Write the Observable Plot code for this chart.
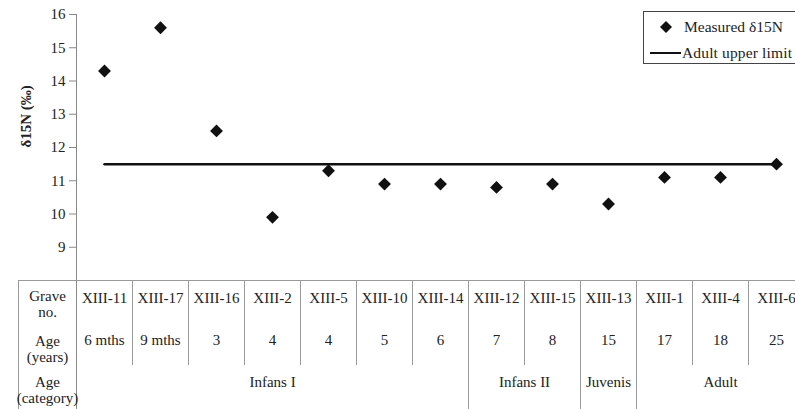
<!DOCTYPE html>
<html>
<head>
<meta charset="utf-8">
<script src="https://cdn.jsdelivr.net/npm/d3@7"></script>
<script src="https://cdn.jsdelivr.net/npm/@observablehq/plot@0.6"></script>
<style>
  html, body { margin: 0; padding: 0; background: #fff; overflow: hidden; }
  #wrap { position: relative; width: 795px; height: 409px; }
  #chart svg, #chart svg text { font-family: "Liberation Serif", "Times New Roman", "DejaVu Serif", serif !important; }
  #legend { position: absolute; left: 643px; top: 11px; width: 170px; height: 53px;
    border: 1px solid #444; background: #fff; box-sizing: border-box; }
  #legend svg { position: absolute; left: 0; top: 0; overflow: visible; }
  #legend text { font-family: "Liberation Serif", "Times New Roman", "DejaVu Serif", serif; font-size: 15.5px; fill: #222; }
</style>
</head>
<body>
<div id="wrap">
  <div id="chart"></div>
  <div id="legend">
    <svg width="170" height="53">
      <path d="M22,9 L28,15 L22,21 L16,15 Z" fill="#111"></path>
      <text x="40" y="20">Measured δ15N</text>
      <line x1="6" x2="37" y1="41" y2="41" stroke="#111" stroke-width="2"></line>
      <text x="38" y="46" textLength="110">Adult upper limit</text>
    </svg>
  </div>
</div>
<script>
const graves = ["XIII-11","XIII-17","XIII-16","XIII-2","XIII-5","XIII-10","XIII-14","XIII-12","XIII-15","XIII-13","XIII-1","XIII-4","XIII-6"];
const ages = ["6 mths","9 mths","3","4","4","5","6","7","8","15","17","18","25"];
const categories = ["Infans I","Infans I","Infans I","Infans I","Infans I","Infans I","Infans I","Infans II","Infans II","Juvenis","Adult","Adult","Adult"];
const d15N = [14.3, 15.6, 12.5, 9.9, 11.3, 10.9, 10.9, 10.8, 10.9, 10.3, 11.1, 11.1, 11.5];
const adultUpperLimit = 11.5;
const yTicks = [8, 9, 10, 11, 12, 13, 14, 15, 16];
const rowLabels = ["Grave\nno.", "Age\n(years)", "Age\n(category)"];

const rows = graves.map((g, i) => ({i, xc: i + 0.5, grave: g, age: ages[i], cat: categories[i], v: d15N[i]}));
const colBounds = graves.map((g, i) => i).filter(i => i > 0);
const groups = [];
categories.forEach((c, i) => {
  if (!groups.length || groups[groups.length - 1].name !== c) groups.push({name: c, start: i, end: i + 1});
  else groups[groups.length - 1].end = i + 1;
});
groups.forEach(g => g.mid = (g.start + g.end) / 2);
const groupBounds = groups.map(g => g.start).filter(s => s > 0);

const font = "'Liberation Serif', 'Times New Roman', 'DejaVu Serif', serif";
const grid = "#9a9a9a";
const ink = "#222";
const rowDy = [36, 81, 122];

const chart = Plot.plot({
  width: 795,
  height: 409,
  marginTop: 14,
  marginBottom: 129,
  marginLeft: 76,
  marginRight: 0,
  style: {fontFamily: font, fontSize: "15px", color: ink, background: "#fff", overflow: "visible"},
  x: {domain: [0, graves.length], range: [76, 804], axis: null},
  y: {domain: [8, 16], axis: null},
  marks: [
    Plot.axisY({ticks: yTicks, tickFormat: d => d === 8 ? "" : d, tickSize: 7, tickPadding: 4, stroke: "#888", fill: ink, fontSize: 15, fontFamily: font, label: null}),
    Plot.text(["δ15N (‰)"], {text: d => d, frameAnchor: "left", dx: -50, dy: 0, rotate: -90, fontWeight: "bold", fontSize: 15, fontFamily: font, fill: ink}),
    Plot.ruleX([0], {x: d => d, stroke: "#888", insetBottom: -129}),
    Plot.ruleY([8], {y: d => d, stroke: grid, insetLeft: -58}),
    Plot.ruleX([0], {x: d => d, dx: -58, stroke: grid, insetTop: 266, insetBottom: -129}),
    Plot.ruleX(colBounds, {x: d => d, stroke: grid, insetTop: 266, insetBottom: -85}),
    Plot.ruleX(groupBounds, {x: d => d, stroke: grid, insetTop: 266, insetBottom: -129}),
    ...rowLabels.map((lab, k) => Plot.text([lab], {x: () => 0, dx: -29, frameAnchor: "bottom", dy: rowDy[k], text: d => d, lineHeight: 1.05, fill: ink, fontSize: 15, fontFamily: font})),
    Plot.text(rows, {x: "xc", text: "grave", frameAnchor: "bottom", dy: 22, fill: ink, fontSize: 15, fontFamily: font}),
    Plot.text(rows, {x: "xc", text: "age", frameAnchor: "bottom", dy: 64, fill: ink, fontSize: 15, fontFamily: font}),
    Plot.text(groups, {x: "mid", text: "name", frameAnchor: "bottom", dy: 106, fill: ink, fontSize: 15, fontFamily: font}),
    Plot.line(rows, {x: "xc", y: () => adultUpperLimit, stroke: "#111", strokeWidth: 2.5}),
    Plot.dot(rows, {x: "xc", y: "v", symbol: "diamond2", r: 5.8, fill: "#111", stroke: "none"})
  ]
});
document.getElementById("chart").appendChild(chart);
</script>
</body>
</html>
